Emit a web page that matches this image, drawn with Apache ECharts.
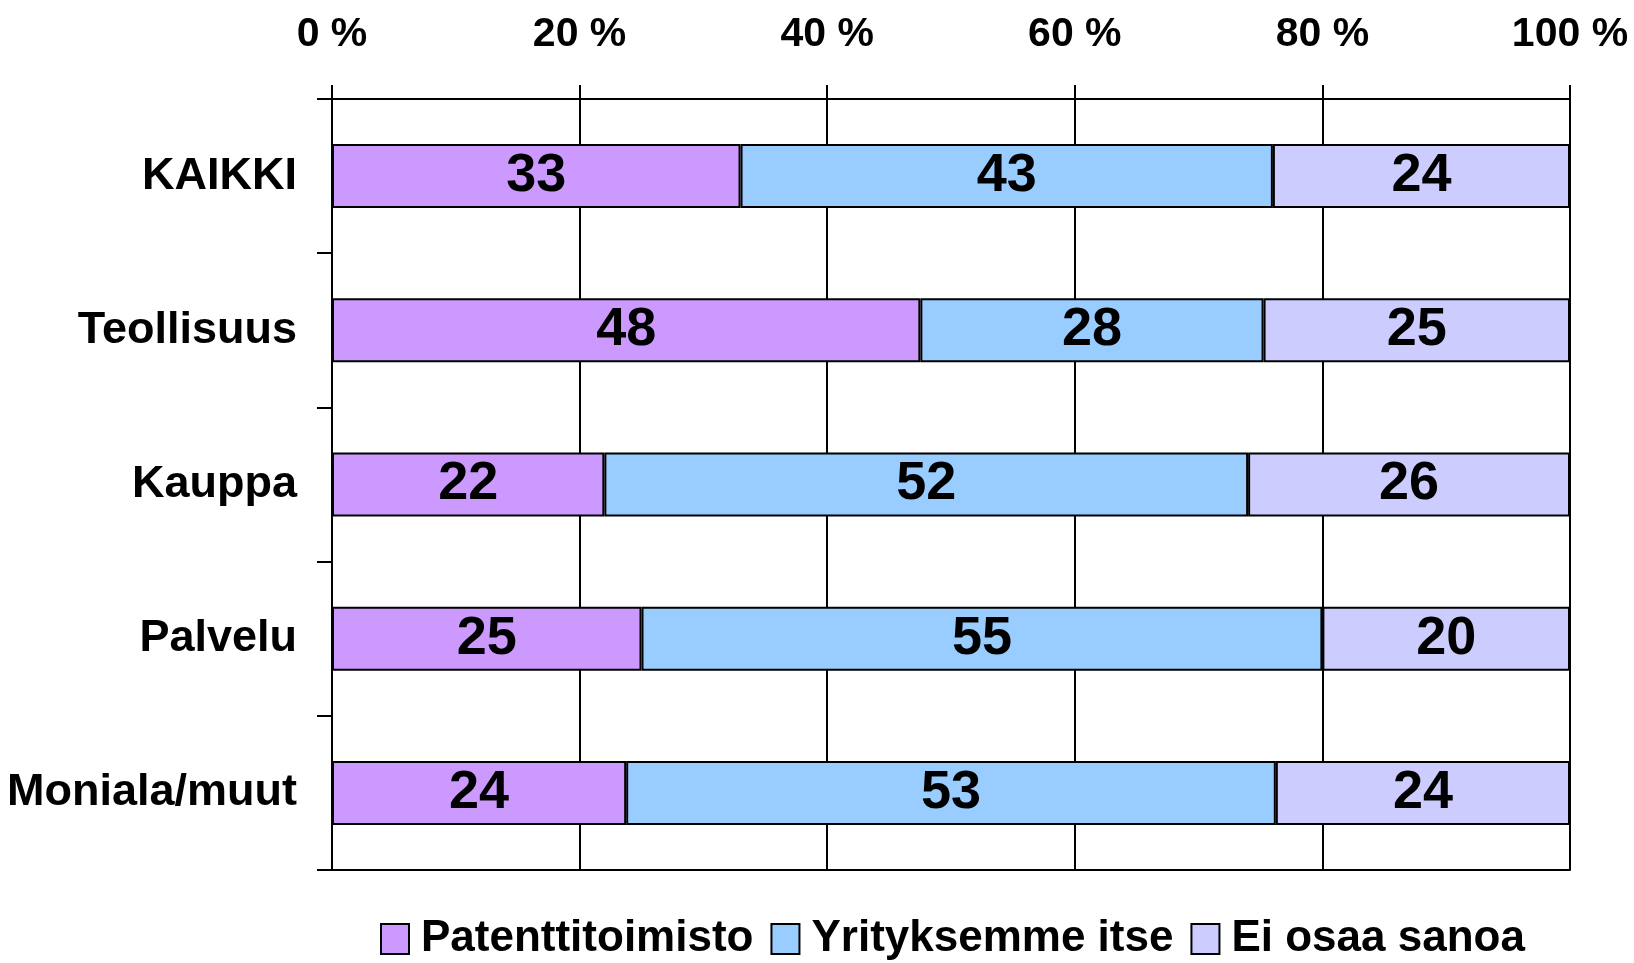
<!DOCTYPE html>
<html>
<head>
<meta charset="utf-8">
<script src="https://cdn.jsdelivr.net/npm/echarts@6/dist/echarts.min.js"></script>
<style>
html,body{margin:0;padding:0;background:#fff;}
#c{width:1634px;height:963px;}
</style>
</head>
<body>
<div id="c"></div>
<script>
var categories = ['KAIKKI', 'Teollisuus', 'Kauppa', 'Palvelu', 'Moniala/muut'];
var seriesNames = ['Patenttitoimisto', 'Yrityksemme itse', 'Ei osaa sanoa'];
var patenttitoimisto = [33, 48, 22, 25, 24];
var yrityksemme = [43, 28, 52, 55, 53];
var eiOsaa = [24, 25, 26, 20, 24];
var tickValues = [0, 20, 40, 60, 80, 100];
var colors = ['#CC99FF', '#99CCFF', '#CCCCFF'];

var FONT = '"Liberation Sans Narrow", "Arial Narrow", "Liberation Sans", Arial, sans-serif';
var raw = [patenttitoimisto, yrityksemme, eiOsaa];
var totals = categories.map(function (c, i) { return raw[0][i] + raw[1][i] + raw[2][i]; });

var chart = echarts.init(document.getElementById('c'), null, {renderer: 'canvas'});
var series = raw.map(function (arr, s) {
  return {
    name: seriesNames[s],
    type: 'bar',
    stack: 'total',
    barWidth: 64,
    data: arr.map(function (v, i) { return {value: v / totals[i] * 100, raw: v}; }),
    itemStyle: {color: colors[s], borderColor: '#000', borderWidth: 2},
    label: {
      show: true,
      position: 'inside',
      color: '#000',
      fontFamily: FONT,
      fontWeight: 'bold',
      fontSize: 54,
      formatter: function (p) { return String(p.data.raw); }
    }
  };
});

chart.setOption({
  animation: false,
  backgroundColor: '#fff',
  grid: {left: 332, right: 64, top: 99, bottom: 93, containLabel: false, outerBoundsMode: 'none'},
  legend: {
    left: 375,
    top: 912,
    itemWidth: 28,
    itemHeight: 30,
    itemGap: 17,
    icon: 'rect',
    textStyle: {fontFamily: FONT, fontWeight: 'bold', fontSize: 44, color: '#000', padding: [0, 0, 0, 7]},
    itemStyle: {borderColor: '#000', borderWidth: 2},
    data: seriesNames
  },
  xAxis: [{
    type: 'value',
    position: 'top',
    min: 0, max: 100, interval: 20,
    axisLine: {show: true, lineStyle: {color: '#000', width: 2}},
    axisTick: {show: true, length: 14, lineStyle: {color: '#000', width: 2}},
    splitLine: {show: true, lineStyle: {color: '#000', width: 2}},
    axisLabel: {
      margin: 44,
      color: '#000',
      fontFamily: FONT,
      fontWeight: 'bold',
      fontSize: 41,
      formatter: function (v) { return tickValues.indexOf(v) >= 0 ? v + ' %' : ''; }
    }
  }, {
    type: 'value',
    position: 'bottom',
    min: 0, max: 100, interval: 20,
    axisLine: {show: true, lineStyle: {color: '#000', width: 2}},
    axisTick: {show: false},
    splitLine: {show: false},
    axisLabel: {show: false}
  }],
  yAxis: {
    type: 'category',
    inverse: true,
    data: categories,
    axisLine: {show: true, lineStyle: {color: '#000', width: 2}},
    axisTick: {show: true, length: 15, lineStyle: {color: '#000', width: 2}},
    axisLabel: {
      margin: 35,
      color: '#000',
      fontFamily: FONT,
      fontWeight: 'bold',
      fontSize: 45
    }
  },
  series: series
});
</script>
</body>
</html>
